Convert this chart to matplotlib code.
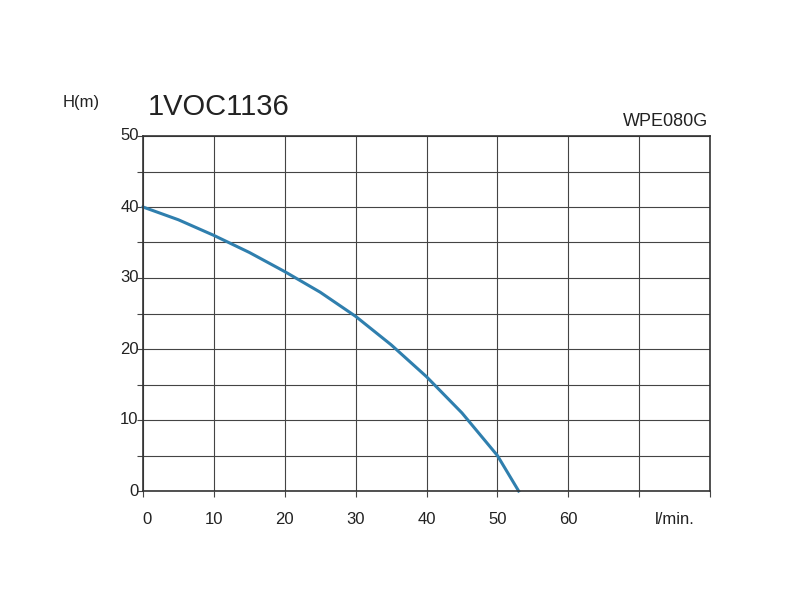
import matplotlib
matplotlib.use("Agg")
import matplotlib.pyplot as plt
import numpy as np

plt.rcParams['font.family'] = ['Liberation Sans', 'DejaVu Sans']

flow = [0, 5, 10, 15, 20, 25, 30, 35, 40, 45, 50, 53]
head = [40, 38.2, 36, 33.6, 30.9, 28.0, 24.6, 20.6, 16.1, 11.0, 5.0, 0]
xticks = [0, 10, 20, 30, 40, 50, 60, 75]
xlabels = ["0", "10", "20", "30", "40", "50", "60", "l/min."]
yticks = [0, 10, 20, 30, 40, 50]

fig = plt.figure(figsize=(8, 6), dpi=100)
ax = fig.add_axes([143/800, 1-491/600, 567/800, 355/600])
ax.set_xlim(0, 80)
ax.set_ylim(0, 50)
ax.set_xticks(np.arange(0, 81, 10))
ax.set_yticks(np.arange(0, 51, 5))
ax.grid(True, color="#444444", linewidth=0.8)
ax.set_xticklabels([])
ax.set_yticklabels([])
ax.tick_params(length=4, color="#444444")
for s in ax.spines.values():
    s.set_color("#333333"); s.set_linewidth(1.2)
for x, l in zip(xticks, xlabels):
    ax.text(x + (0.5 if x == 0 else 0), -4.0, l, ha="center", va="center", fontsize=12, color="#222222")
for y in yticks:
    ax.text(-0.6, y, str(y), ha="right", va="center", fontsize=12, color="#222222")
ax.plot(flow, head, color="#2f7fae", linewidth=2.2, clip_on=False)
fig.text(63/800, 1-103/600, "H(m)", fontsize=12, color="#222222", va="center")
fig.text(148/800, 1-107/600, "1VOC1136", fontsize=21, color="#222222", va="center")
fig.text(708/800, 1-121/600, "WPE080G", fontsize=13, color="#222222", va="center", ha="right")
fig.savefig("out.png")
